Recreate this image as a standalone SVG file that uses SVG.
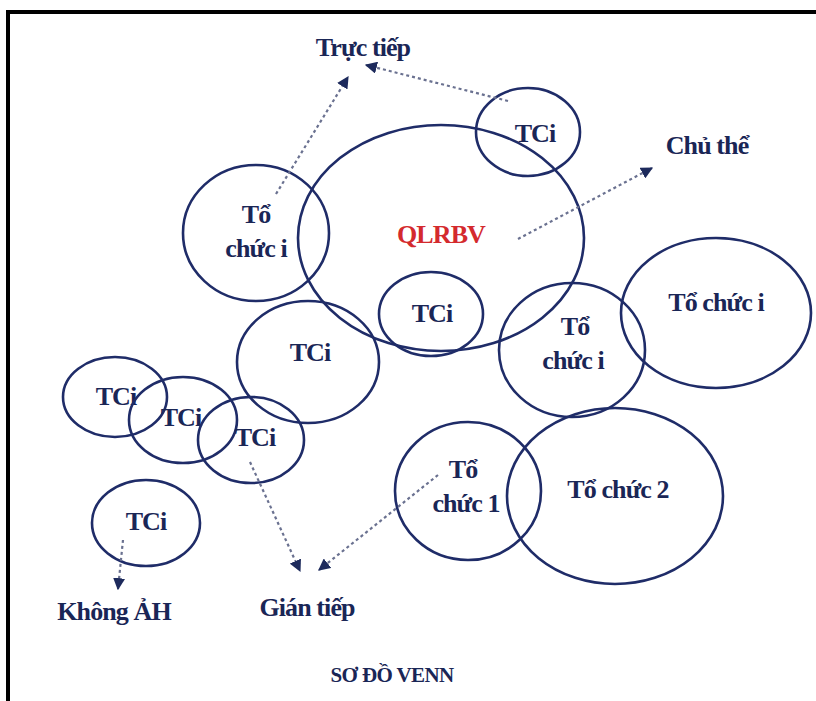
<svg xmlns="http://www.w3.org/2000/svg" width="816" height="701" viewBox="0 0 816 701">
  <defs>
    <marker id="tri" viewBox="0 0 10 10" refX="9" refY="5" markerWidth="5.5" markerHeight="5.5" orient="auto" markerUnits="strokeWidth">
      <path d="M0,0 L10,5 L0,10 Z" fill="#1d2a5c"/>
    </marker>
  </defs>
  <style>
    .set { fill: none; stroke: #1f2c68; stroke-width: 2.6; }
    .lbl { font-family: "Liberation Serif", "Times New Roman", serif; font-weight: bold; font-size: 26px; letter-spacing: -0.9px; fill: #1a2656; text-anchor: middle; }
    .red { fill: #d42a2e; }
    .cap { font-size: 21px; letter-spacing: -0.6px; }
    .link { fill: none; stroke: #6a7190; stroke-width: 2.2; stroke-dasharray: 3 3; marker-end: url(#tri); }
  </style>

  <rect width="816" height="701" fill="#ffffff"/>
  <!-- page frame: top and left rule -->
  <path d="M8,701 V12 H816" fill="none" stroke="#000000" stroke-width="4"/>

  <g id="qlrbv">
    <ellipse class="set" cx="441" cy="238" rx="143" ry="113"/>
    <text class="lbl red" x="441" y="243">QLRBV</text>
  </g>
  <g id="tci-top">
    <ellipse class="set" cx="528" cy="132" rx="52" ry="44"/>
    <text class="lbl" x="535" y="142">TCi</text>
  </g>
  <g id="to-chuc-i-left">
    <ellipse class="set" cx="256" cy="233" rx="73" ry="68"/>
    <text class="lbl" x="256" y="223">Tổ</text>
    <text class="lbl" x="256" y="257">chức i</text>
  </g>
  <g id="tci-center">
    <ellipse class="set" cx="431" cy="314" rx="52" ry="42"/>
    <text class="lbl" x="432" y="322">TCi</text>
  </g>
  <g id="tci-mid">
    <ellipse class="set" cx="308" cy="362" rx="71" ry="61"/>
    <text class="lbl" x="310" y="361">TCi</text>
  </g>
  <g id="to-chuc-i-right">
    <ellipse class="set" cx="572" cy="350" rx="73" ry="67"/>
    <text class="lbl" x="575" y="335">Tổ</text>
    <text class="lbl" x="573" y="369">chức i</text>
  </g>
  <g id="to-chuc-i-far">
    <ellipse class="set" cx="716" cy="313" rx="95" ry="75"/>
    <text class="lbl" x="716" y="311">Tổ chức i</text>
  </g>
  <g id="tci-chain-1">
    <ellipse class="set" cx="115" cy="397" rx="52" ry="40"/>
    <text class="lbl" x="116" y="405">TCi</text>
  </g>
  <g id="tci-chain-2">
    <ellipse class="set" cx="183" cy="420" rx="54" ry="43"/>
    <text class="lbl" x="181" y="426">TCi</text>
  </g>
  <g id="tci-chain-3">
    <ellipse class="set" cx="251" cy="440" rx="53" ry="43"/>
    <text class="lbl" x="255" y="446">TCi</text>
  </g>
  <g id="tci-alone">
    <ellipse class="set" cx="146" cy="523" rx="54" ry="43"/>
    <text class="lbl" x="146" y="530">TCi</text>
  </g>
  <g id="to-chuc-1">
    <ellipse class="set" cx="468" cy="491" rx="73" ry="69"/>
    <text class="lbl" x="463" y="478">Tổ</text>
    <text class="lbl" x="466" y="512">chức 1</text>
  </g>
  <g id="to-chuc-2">
    <ellipse class="set" cx="615" cy="496" rx="108" ry="88"/>
    <text class="lbl" x="618" y="498">Tổ chức 2</text>
  </g>

  <g id="truc-tiep"><text class="lbl" x="363" y="56">Trực tiếp</text></g>
  <g id="chu-the"><text class="lbl" x="707" y="154">Chủ thể</text></g>
  <g id="khong-ah"><text class="lbl" x="114" y="620">Không ẢH</text></g>
  <g id="gian-tiep"><text class="lbl" x="307" y="616">Gián tiếp</text></g>

  <g id="connectors">
    <line class="link" x1="276" y1="194" x2="348" y2="77"/>
    <line class="link" x1="508" y1="101" x2="366" y2="65"/>
    <line class="link" x1="518" y1="239" x2="652" y2="168"/>
    <line class="link" x1="250" y1="462" x2="300" y2="571"/>
    <line class="link" x1="438" y1="475" x2="319" y2="570"/>
    <line class="link" x1="123" y1="540" x2="118" y2="589"/>
  </g>

  <text class="lbl cap" x="392" y="682">SƠ ĐỒ VENN</text>
</svg>
